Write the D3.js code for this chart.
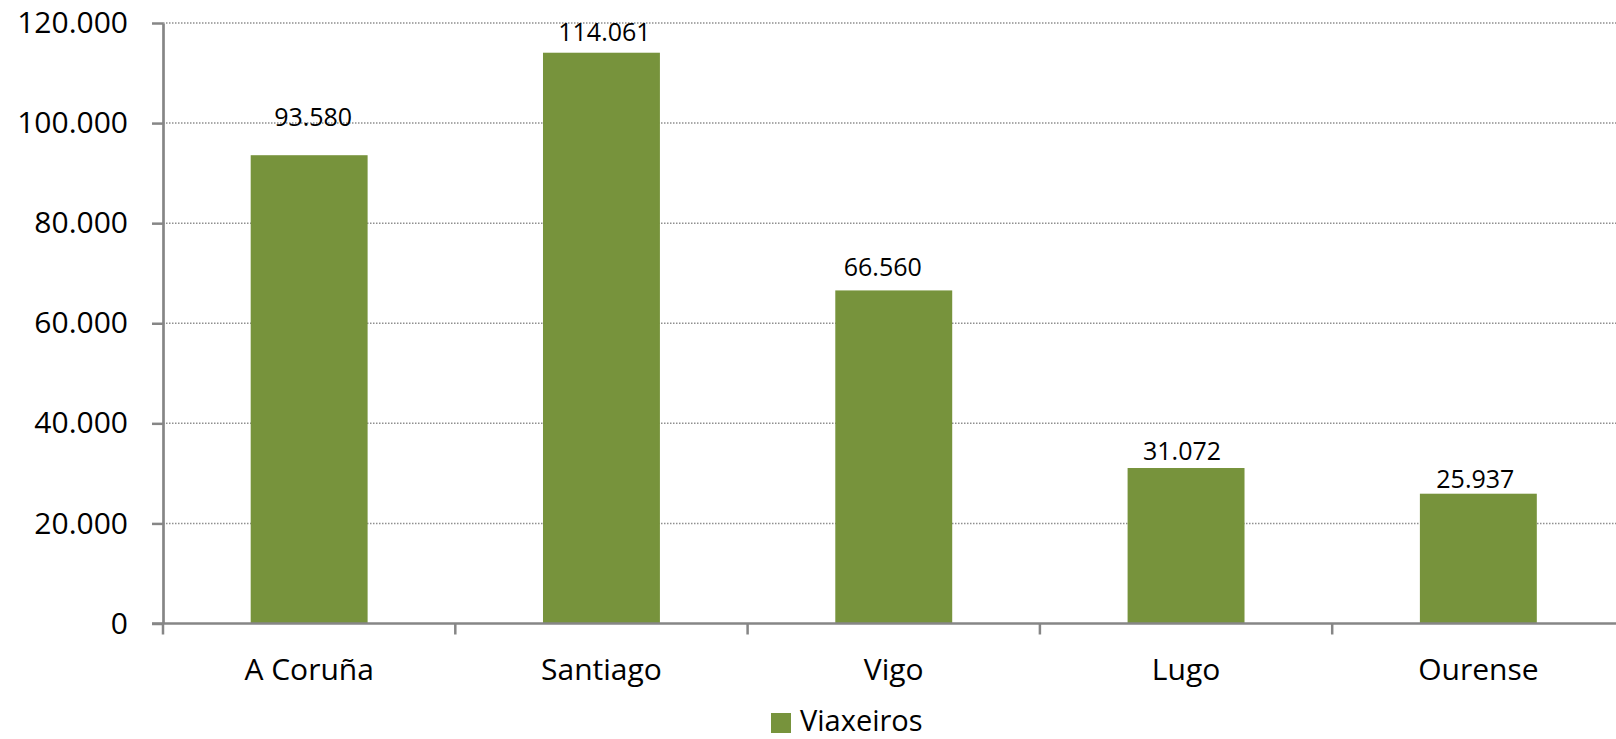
<!DOCTYPE html>
<html>
<head>
<meta charset="utf-8">
<script src="https://cdn.jsdelivr.net/npm/d3@7"></script>
<style>
  html, body { margin: 0; padding: 0; background: #fff; }
  svg { display: block; font-family: "Open Sans", "DejaVu Sans", sans-serif; }
</style>
</head>
<body>
<svg id="chart" width="1616" height="739"></svg>
<script>
// ---- data ----
const categories = ["A Coruña", "Santiago", "Vigo", "Lugo", "Ourense"];
const viaxeiros = [93580, 114061, 66560, 31072, 25937];
const yTicks = [0, 20000, 40000, 60000, 80000, 100000, 120000];
const seriesName = "Viaxeiros";

// ---- layout / style ----
const W = 1616, H = 739;
const plot = { left: 163, right: 1624.5, top: 23, bottom: 623.5 };
const barColor = "#77933C";
const axisColor = "#868686";
const gridColor = "#8f8f8f";
// manual label placement (as in the original chart): lift above bar top, horizontal shift
const labelLift = [29.5, 11.6, 14, 8.3, 5.6];
const labelShift = [4, 3, -11, -4, -3];

const svg = d3.select("#chart");
const locale = d3.formatLocale({ decimal: ",", thousands: ".", grouping: [3], currency: ["", ""] });
const fmt = locale.format(",d");

const x = d3.scaleBand()
  .domain(categories)
  .range([plot.left, plot.right])
  .paddingInner(0.6)
  .paddingOuter(0.3);

const y = d3.scaleLinear()
  .domain([0, 120000])
  .range([plot.bottom, plot.top]);

// gridlines
svg.append("g")
  .selectAll("line")
  .data(yTicks.filter(d => d > 0))
  .join("line")
  .attr("x1", plot.left)
  .attr("x2", W)
  .attr("y1", d => y(d))
  .attr("y2", d => y(d))
  .attr("stroke", gridColor)
  .attr("stroke-width", 1.5)
  .attr("stroke-dasharray", "1.5,1.5");

// bars
const data = categories.map((c, i) => ({ c, v: viaxeiros[i], i }));
svg.append("g")
  .selectAll("rect")
  .data(data)
  .join("rect")
  .attr("x", d => x(d.c))
  .attr("width", x.bandwidth())
  .attr("y", d => y(d.v))
  .attr("height", d => y(0) - y(d.v))
  .attr("fill", barColor);

// y axis
const yAxis = svg.append("g")
  .attr("transform", `translate(${plot.left},0)`)
  .call(d3.axisLeft(y).tickValues(yTicks).tickFormat(fmt).tickSize(11).tickPadding(24).tickSizeOuter(0));
yAxis.select(".domain").attr("stroke", axisColor).attr("stroke-width", 2.7);
yAxis.selectAll(".tick line").attr("stroke", axisColor).attr("stroke-width", 2.5);
yAxis.selectAll(".tick text")
  .attr("fill", "#000")
  .style("font-size", "30px")
  .style("font-family", "'Open Sans', sans-serif");

// x axis line + boundary ticks
const step = x.step();
const boundaries = categories.map(c => x(c) + x.bandwidth() / 2 - step / 2)
  .concat([x(categories[categories.length - 1]) + x.bandwidth() / 2 + step / 2]);
const xg = svg.append("g");
xg.append("line")
  .attr("x1", plot.left - 11).attr("x2", W)
  .attr("y1", y(0)).attr("y2", y(0))
  .attr("stroke", axisColor).attr("stroke-width", 2.7);
xg.selectAll("line.bt")
  .data(boundaries)
  .join("line")
  .attr("class", "bt")
  .attr("x1", d => d).attr("x2", d => d)
  .attr("y1", y(0)).attr("y2", y(0) + 11)
  .attr("stroke", axisColor).attr("stroke-width", 2.5);

const xAxis = svg.append("g")
  .attr("transform", `translate(0,${plot.bottom})`)
  .call(d3.axisBottom(x).tickSize(0).tickPadding(0));
xAxis.select(".domain").remove();
xAxis.selectAll(".tick text")
  .attr("y", 680 - plot.bottom)
  .attr("dy", "0")
  .attr("fill", "#000")
  .style("font-size", "30px")
  .style("font-family", "'Open Sans', sans-serif");

// value labels
svg.append("g")
  .selectAll("text")
  .data(data)
  .join("text")
  .attr("x", d => x(d.c) + x.bandwidth() / 2 + labelShift[d.i])
  .attr("y", d => y(d.v) - labelLift[d.i])
  .attr("text-anchor", "middle")
  .attr("fill", "#000")
  .style("font-size", "25px")
  .text(d => fmt(d.v));

// legend
const lg = svg.append("g");
lg.append("rect")
  .attr("x", 771).attr("y", 713).attr("width", 20).attr("height", 20)
  .attr("fill", barColor);
lg.append("text")
  .attr("x", 800).attr("y", 731)
  .attr("fill", "#000")
  .style("font-size", "29px")
  .text(seriesName);
</script>
</body>
</html>
